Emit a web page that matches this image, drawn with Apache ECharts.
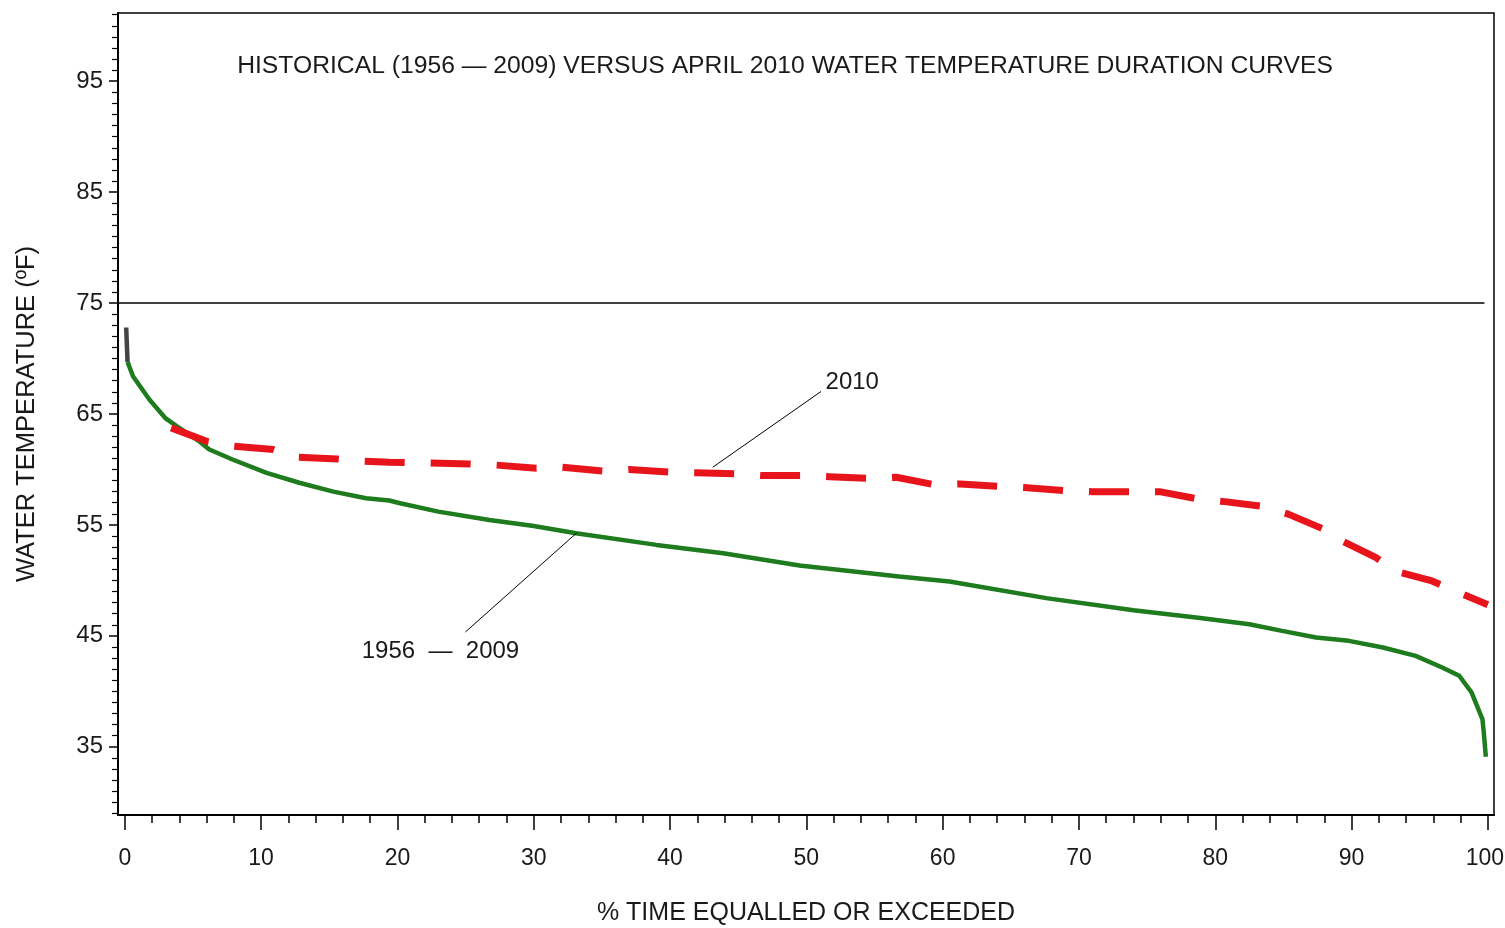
<!DOCTYPE html>
<html><head><meta charset="utf-8">
<script src="https://cdn.jsdelivr.net/npm/echarts@6/dist/echarts.min.js"></script>
<style>html,body{margin:0;padding:0;background:#fff}#c{width:1505px;height:928px}</style>
</head><body><div id="c"></div>
<script>
// ---- data ----
const xMajorTicks = [0, 10, 20, 30, 40, 50, 60, 70, 80, 90, 100];
const yMajorTicks = [35, 45, 55, 65, 75, 85, 95];
const histTop = [[0.1, 72.8], [0.2, 69.7]];
const hist = [
  [0.2, 69.7], [0.6, 68.4], [1.8, 66.3], [3.0, 64.6], [3.8, 63.9], [5.5, 62.5], [6.2, 61.8],
  [7.9, 60.9], [10.4, 59.7], [12.8, 58.8], [15.3, 58.0], [17.7, 57.4], [19.4, 57.2], [20.2, 56.95],
  [23.0, 56.2], [26.75, 55.45], [30.0, 54.9], [33.1, 54.25], [39.0, 53.2], [43.9, 52.45],
  [49.5, 51.35], [56.8, 50.35], [60.5, 49.9], [67.6, 48.4], [74.0, 47.3], [78.9, 46.6],
  [82.5, 46.05], [84.9, 45.45], [87.4, 44.85], [89.8, 44.55], [92.3, 43.95], [94.7, 43.2],
  [96.65, 42.15], [97.9, 41.4], [98.8, 39.9], [99.3, 38.4], [99.6, 37.5], [99.7, 36.3], [99.85, 34.1]
];
const apr2010 = [
  [3.4, 63.75], [6.1, 62.5], [8.0, 62.1], [10.9, 61.8], [12.6, 61.1], [15.6, 60.95], [17.5, 60.75],
  [19.4, 60.65], [25.3, 60.5], [27.2, 60.4], [30.2, 60.1], [32.1, 60.2], [35.1, 59.85], [37.0, 60.0],
  [40.0, 59.75], [41.9, 59.7], [44.9, 59.6], [46.8, 59.45], [49.7, 59.45], [51.7, 59.35], [54.6, 59.2],
  [56.6, 59.3], [59.5, 58.6], [61.3, 58.7], [64.4, 58.45], [66.2, 58.35], [69.3, 58.05], [71.0, 58.0],
  [74.2, 58.0], [75.9, 58.0], [78.9, 57.3], [80.7, 57.1], [83.3, 56.7], [85.4, 55.95], [87.9, 54.65],
  [89.3, 53.55], [91.8, 52.05], [93.2, 50.85], [95.9, 49.95], [97.6, 49.05], [100.0, 47.8]
];
const threshold = [[-0.5, 75], [99.75, 75]];
const leader2010 = [[43.13, 60.2], [51.08, 67.03]];
const leaderHist = [[33.15, 54.28], [24.99, 45.35]];
const titleText = 'HISTORICAL (1956 \u2014 2009) VERSUS APRIL 2010 WATER TEMPERATURE DURATION CURVES';
const xName = '% TIME EQUALLED OR EXCEEDED';
const yName = 'WATER TEMPERATURE (\u00BAF)';
const label2010 = '2010';
const labelHist = '1956  \u2014  2009';

// ---- chart ----
const FONT = '"Liberation Sans", Arial, sans-serif';
const TXT = '#1a1a1a';
const xMinor = [], yMinor = [];
for (let v = 0; v <= 100; v += 2) if (v % 10 !== 0) xMinor.push(v);
for (let v = 29; v <= 101; v += 1) if ((v - 5) % 10 !== 0) yMinor.push(v);

const annLabel = (text, pos, offset) => ({show: true, formatter: text, position: pos, distance: 4,
  offset: offset, fontFamily: FONT, fontSize: 24, color: TXT, opacity: 1});

const chart = echarts.init(document.getElementById('c'), null, {renderer: 'canvas'});
const XMIN = -0.5, XMAX = 100.45, YMIN = 28.85, YMAX = 101.15;
const lastX = xMajorTicks[xMajorTicks.length - 1];
chart.setOption({
  backgroundColor: '#fff',
  animation: false,
  title: {
    text: titleText, left: 780, top: 49, textAlign: 'center',
    textStyle: {fontFamily: FONT, fontSize: 24.7, fontWeight: 'normal', color: TXT}
  },
  grid: {left: 118, right: 11, top: 13, bottom: 113, outerBoundsMode: 'none', containLabel: false,
    show: true, borderColor: '#000', borderWidth: 1.5, backgroundColor: 'transparent'},
  xAxis: [
    {type: 'value', min: XMIN, max: XMAX, position: 'bottom',
     name: xName, nameLocation: 'middle', nameGap: 86,
     nameTextStyle: {fontFamily: FONT, fontSize: 25, color: TXT},
     axisLine: {onZero: false, lineStyle: {color: '#000', width: 2}},
     axisTick: {customValues: xMajorTicks, length: 15, lineStyle: {color: '#000', width: 1.5}},
     axisLabel: {customValues: xMajorTicks, margin: 32, fontFamily: FONT, fontSize: 23, color: TXT,
       formatter: v => (v === lastX ? '{e|' + v + '}' : String(v)),
       rich: {e: {fontFamily: FONT, fontSize: 23, color: TXT, padding: [0, 6, 0, 0]}}},
     splitLine: {show: false}},
    {type: 'value', min: XMIN, max: XMAX, position: 'bottom',
     axisLine: {show: false, onZero: false},
     axisTick: {customValues: xMinor, length: 8, lineStyle: {color: '#000', width: 1.5}},
     axisLabel: {show: false}, splitLine: {show: false}}
  ],
  yAxis: [
    {type: 'value', min: YMIN, max: YMAX, position: 'left',
     name: yName, nameLocation: 'middle', nameGap: 78, nameRotate: 90,
     nameTextStyle: {fontFamily: FONT, fontSize: 25.5, color: TXT},
     axisLine: {onZero: false, lineStyle: {color: '#000', width: 2}},
     axisTick: {customValues: yMajorTicks, length: 9, lineStyle: {color: '#000', width: 1.5}},
     axisLabel: {customValues: yMajorTicks, margin: 15, fontFamily: FONT, fontSize: 24, color: TXT},
     splitLine: {show: false}},
    {type: 'value', min: YMIN, max: YMAX, position: 'left',
     axisLine: {show: false, onZero: false},
     axisTick: {customValues: yMinor, length: 6, lineStyle: {color: '#000', width: 1.2}},
     axisLabel: {show: false}, splitLine: {show: false}}
  ],
  series: [
    {type: 'line', data: threshold, symbol: 'none', silent: true,
     lineStyle: {color: '#000', width: 1.5}, z: 2},
    {type: 'line', data: hist, symbol: 'none', lineStyle: {color: '#1e7b1e', width: 4.5}, z: 3},
    {type: 'line', data: histTop, symbol: 'none', lineStyle: {color: '#444', width: 4.5}, z: 3},
    {type: 'line', data: apr2010, symbol: 'none',
     lineStyle: {color: '#e8141c', width: 7, type: [40, 26], cap: 'butt'}, z: 4},
    {type: 'line', data: leader2010, symbol: 'none', lineStyle: {color: '#000', width: 1}, z: 5},
    {type: 'line', data: leaderHist, symbol: 'none', lineStyle: {color: '#000', width: 1}, z: 5},
    {type: 'scatter', symbolSize: 1, itemStyle: {color: 'rgba(0,0,0,0)', opacity: 1}, z: 6,
     data: [
       {value: leader2010[1], label: annLabel(label2010, 'right', [0, -9])},
       {value: leaderHist[1], label: annLabel(labelHist, 'bottom', [-25, 3])}
     ]}
  ]
});
</script>
</body></html>
